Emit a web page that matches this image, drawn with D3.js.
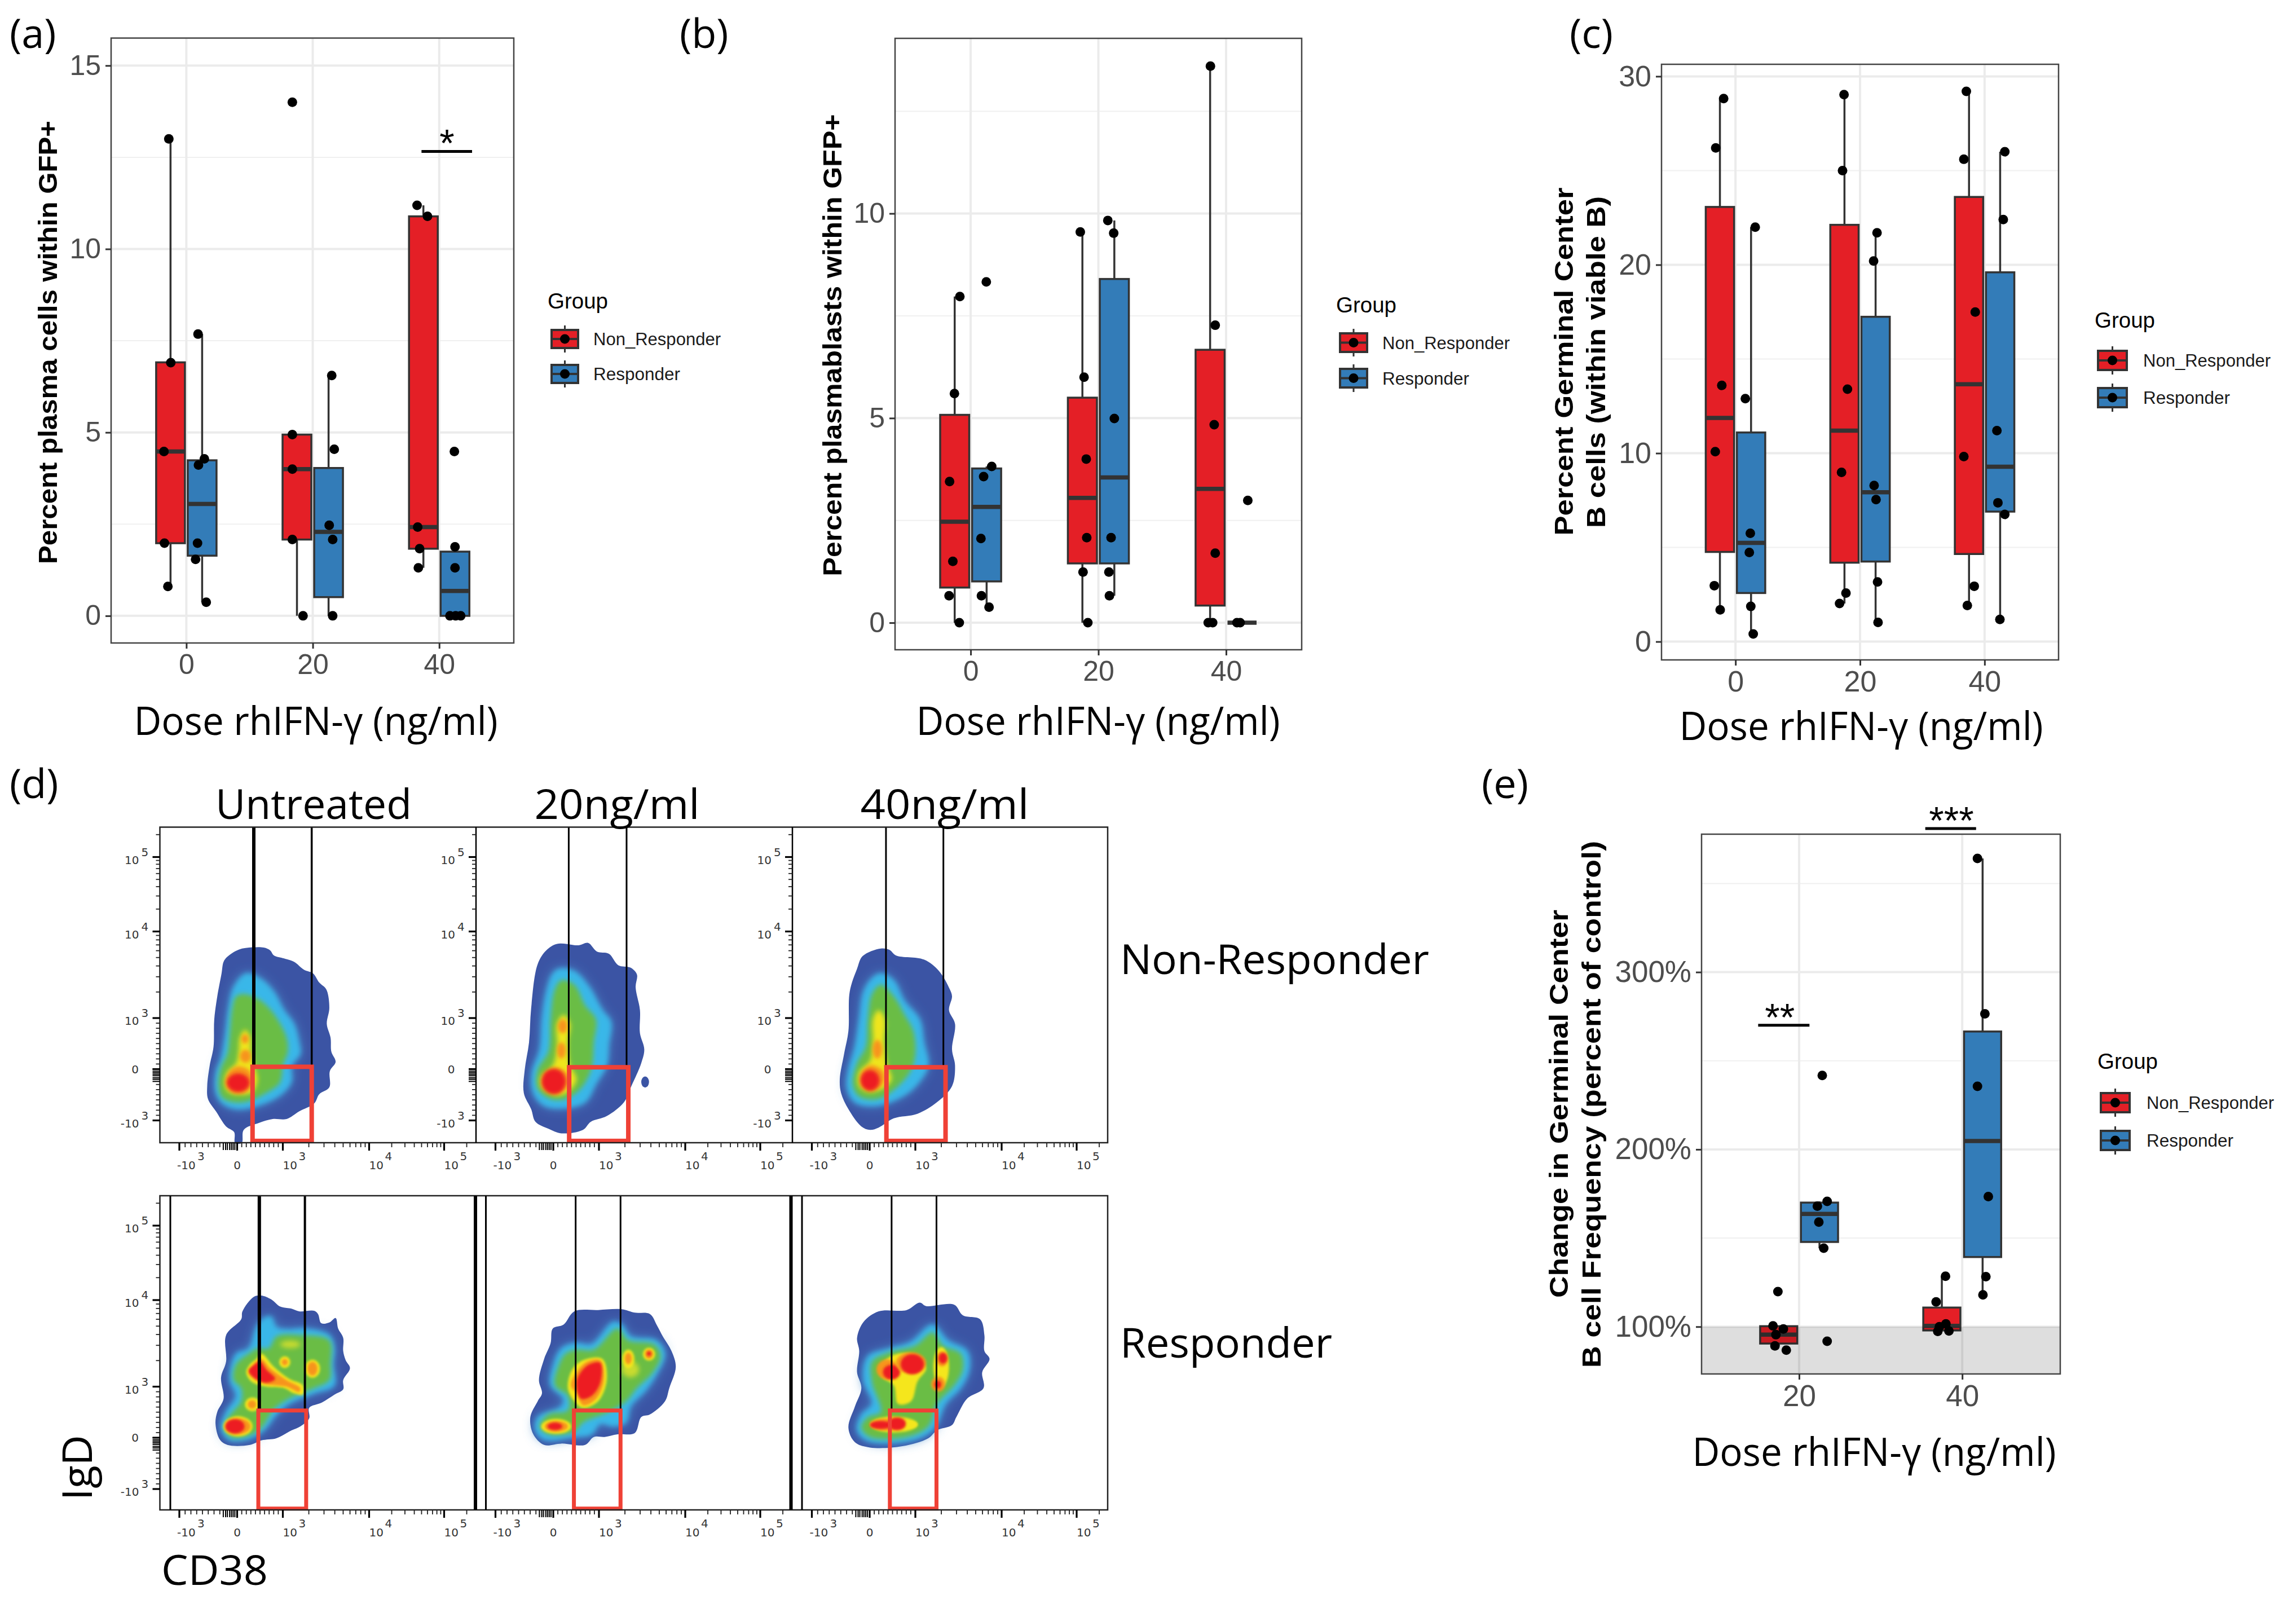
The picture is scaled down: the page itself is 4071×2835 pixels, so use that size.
<!DOCTYPE html>
<html><head><meta charset="utf-8">
<script src="https://cdnjs.cloudflare.com/ajax/libs/d3/7.8.5/d3.min.js"></script>
<style>html,body{margin:0;padding:0;background:#fff}svg{display:block}</style>
</head><body><svg id="c" width="4071" height="2835" viewBox="0 0 4071 2835"></svg>
<script>
// ---------- data: box plots ----------
const groups = ['Non_Responder', 'Responder'];
const groupFill = ['#E41F26', '#337CB8'];
const dosesABC = [0, 20, 40];
const dosesE = [20, 40];
// [dose, group, low, q1, median, q3, high]
const boxesA = [[0,0,0.8,1.98,4.48,6.91,13],[0,1,0.37,1.64,3.05,4.24,7.68],[20,0,0,2.08,4,4.94,4.94],[20,1,0,0.51,2.29,4.03,6.55],[40,0,1.31,1.83,2.42,10.89,11.19],[40,1,0,0,0.68,1.75,1.75]];
// [x, y]
const ptsA = [[-2.77,13],[-2.46,6.9],[-3.54,4.48],[-3.46,1.98],[-2.92,0.8],[1.85,7.68],[2.85,4.28],[1.92,4.11],[1.77,1.98],[1.46,1.54],[3.15,0.37],[16.77,14],[16.77,4.94],[16.77,4],[16.77,2.08],[18.46,0],[23,6.55],[23.4,4.54],[22.6,2.47],[23.15,2.08],[23.15,0],[36.5,11.19],[38.15,10.89],[36.6,2.42],[36.9,1.83],[36.7,1.31],[42.4,4.48],[42.5,1.88],[42.5,1.31],[41.7,0],[42.6,0],[43.4,0]];
const boxesB = [[0,0,0,0.86,2.47,5.08,7.97],[0,1,0.38,1.01,2.83,3.77,3.82],[20,0,0,1.45,3.05,5.5,9.55],[20,1,0.66,1.45,3.55,8.4,9.83],[40,0,0,0.42,3.27,6.67,13.6],[40,1,0,0,0,0,0]];
const ptsB = [[-1.69,7.97],[-2.54,5.6],[-3.3,3.45],[-2.79,1.5],[-3.38,0.66],[-1.78,0],[2.45,8.33],[3.3,3.82],[2.03,3.57],[1.61,2.06],[1.69,0.66],[2.88,0.38],[17.17,9.55],[17.76,6],[18.1,4],[18.18,2.08],[17.6,1.24],[18.35,0],[21.48,9.83],[22.4,9.52],[22.5,4.99],[21.99,2.08],[21.65,1.24],[21.73,0.66],[37.55,13.6],[38.3,7.27],[38.14,4.84],[38.3,1.7],[37.2,0],[37.9,0],[43.4,2.99],[41.7,0],[42.2,0]];
const boxesC = [[0,0,1.69,4.76,11.87,23.07,28.82],[0,1,0.41,2.58,5.24,11.1,22],[20,0,2.02,4.19,11.2,22.12,29.03],[20,1,1.02,4.25,7.93,17.24,21.7],[40,0,1.92,4.65,13.66,23.6,29.2],[40,1,1.18,6.9,9.28,19.6,26]];
const ptsC = [[-1.9,28.82],[-3.17,26.2],[-2.2,13.6],[-3.25,10.08],[-3.4,2.97],[-2.46,1.69],[3.17,22],[1.58,12.9],[2.38,5.75],[2.22,4.73],[2.46,1.87],[2.85,0.41],[17.43,29.03],[17.19,25],[17.98,13.4],[17.03,8.98],[17.74,2.58],[16.71,2.02],[22.73,21.7],[22.18,20.2],[22.26,8.29],[22.57,7.54],[22.81,3.17],[22.89,1.02],[37.07,29.2],[36.67,25.6],[38.5,17.49],[36.67,9.82],[38.34,2.94],[37.23,1.92],[43.25,26],[43,22.4],[41.98,11.2],[42.14,7.37],[43.25,6.75],[42.46,1.18]];
const boxesE = [[20,0,89.2,90.5,95.5,100.3,100.5],[20,1,144.3,147.8,163.6,170,170.7],[40,0,97.4,97.9,100.5,110.8,128.5],[40,1,118,139.3,204.7,266.5,364.1]];
const ptsE = [[17.4,119.8],[16.8,100.5],[18.07,98.7],[17.16,95.5],[17.04,89.2],[18.43,86.8],[22.84,241.7],[23.44,170.7],[22.24,168],[22.42,159],[23.02,144.3],[23.44,91.8],[37.95,128.5],[36.8,114],[38,101.6],[37.2,100],[37,97.4],[38.37,97.6],[41.87,364.1],[42.78,276.5],[41.87,235.6],[43.2,173.4],[42.9,128.2],[42.54,118]];
const yTicksA=[0,5,10,15], yMinorA=[2.5,7.5,12.5];
const yTicksB=[0,5,10], yMinorB=[2.5,7.5,12.5];
const yTicksC=[0,10,20,30], yMinorC=[5,15,25];
const yTicksE=[100,200,300], yMinorE=[150,250,350];
// significance: [x1, x2, y, starX, label]
const sigA=[[37.2,45.2,12.66,41.23,'*']];
const sigE=[[14.98,21.27,270,17.64,'**'],[35.47,41.7,381,38.67,'***']];

// ---------- data: flow density outlines in crop-read-out units ----------
const blueTL=[[555,587],[600,588],[625,600],[640,622],[680,635],[720,650],[760,685],[795,700],[820,740],[848,770],[860,850],[850,920],[865,980],[868,1040],[885,1085],[862,1125],[860,1195],[820,1225],[800,1265],[740,1300],[690,1333],[635,1333],[580,1350],[520,1380],[512,1437],[486,1437],[482,1390],[450,1365],[410,1300],[378,1245],[375,1190],[385,1100],[400,1020],[403,900],[415,800],[432,700],[440,650],[455,628],[500,597]];
const cyanTL=[[530,700],[590,725],[640,780],[680,860],[720,920],[740,1000],[745,1050],[710,1100],[710,1170],[670,1225],[590,1270],[500,1290],[440,1270],[410,1220],[410,1130],[430,1070],[445,980],[460,850],[480,760]];
const greenTL=[[520,790],[575,810],[620,850],[660,910],[690,980],[695,1040],[675,1100],[670,1150],[660,1180],[600,1225],[540,1255],[480,1260],[435,1240],[420,1190],[430,1110],[455,1050],[465,960],[475,850],[490,800]];
const yellowTL=[[525,945],[545,975],[550,1050],[560,1100],[575,1160],[555,1215],[510,1225],[460,1215],[445,1180],[455,1130],[490,1090],[500,1040],[505,980]];
const orangeTL=[[495,1105],[540,1120],[555,1170],[530,1215],[480,1220],[450,1185],[460,1130]];
const spotsTL=[[3,525,985,14,20],[3,527,1060,22,28],[4,498,1175,45,40]];

const blueTM=[[180,572],[230,578],[252,568],[272,605],[300,615],[322,665],[350,675],[365,705],[362,760],[372,860],[372,960],[382,1030],[375,1090],[352,1190],[335,1260],[295,1320],[258,1345],[240,1380],[190,1395],[160,1375],[130,1345],[120,1290],[103,1220],[105,1120],[115,1000],[120,850],[135,660],[155,600]];
const cyanTM=[[185,680],[220,690],[255,760],[285,860],[305,910],[300,1010],[295,1100],[270,1180],[245,1260],[200,1285],[150,1275],[125,1220],[122,1130],[140,1030],[145,900],[155,780],[170,700]];
const greenTM=[[190,730],[220,750],[245,840],[270,900],[265,1000],[260,1110],[235,1200],[200,1245],[165,1245],[135,1200],[135,1120],[160,1040],[165,900],[175,770]];
const yellowTM=[[195,880],[210,920],[205,1000],[210,1100],[225,1160],[205,1215],[175,1230],[145,1200],[142,1150],[170,1100],[180,1020],[180,920]];
const orangeTM=[[175,1110],[200,1130],[205,1180],[180,1225],[150,1190],[150,1140]];
const spotsTM=[[3,193,930,11,30],[3,190,1035,10,35],[4,172,1170,28,55],[0,384,1172,9,24]];

const blueTR=[[930,592],[950,598],[965,622],[1030,640],[1065,690],[1090,770],[1095,800],[1088,860],[1102,920],[1095,1030],[1102,1100],[1095,1190],[1060,1260],[1015,1310],[960,1330],[925,1370],[905,1380],[885,1365],[855,1290],[838,1220],[835,1160],[845,1050],[855,950],[858,780],[875,680],[888,625]];
const cyanTR=[[930,700],[960,730],[985,820],[1020,900],[1030,1000],[1040,1100],[1020,1170],[985,1230],[920,1275],[870,1260],[852,1200],[855,1120],[870,1020],[880,900],[890,780],[910,720]];
const greenTR=[[930,750],[960,800],[985,880],[1005,950],[1010,1050],[1000,1120],[970,1190],[925,1245],[880,1235],[865,1180],[875,1090],[895,1020],[900,900],[910,790]];
const yellowTR=[[925,860],[940,900],[938,1000],[945,1100],[955,1160],[935,1200],[900,1215],[880,1190],[880,1130],[905,1080],[912,1000],[912,900]];
const orangeTR=[[905,1100],[935,1125],[935,1180],[905,1210],[885,1180],[885,1135]];
const spotsTR=[[3,922,1030,11,40],[4,905,1165,22,45]];

const blueBL=[[560,425],[590,420],[630,435],[665,462],[710,470],[740,480],[800,478],[815,490],[828,525],[860,522],[885,505],[895,545],[915,580],[915,630],[925,665],[942,695],[915,740],[915,775],[880,795],[830,825],[780,845],[780,885],[745,915],[710,930],[650,960],[590,968],[545,985],[455,985],[425,965],[408,905],[415,860],[440,810],[430,730],[450,670],[450,570],[510,510],[515,480]];
const cyanBL=[[630,500],[650,540],[700,548],[760,545],[860,570],[880,620],[875,680],[880,760],[800,790],[700,830],[650,870],[600,930],[530,965],[460,965],[430,920],[450,860],[490,800],[465,740],[490,640],[540,620],[570,540],[600,505]];
const greenBL=[[575,620],[620,620],[650,575],[750,570],[860,590],[865,680],[860,740],[800,770],[700,810],[640,850],[590,920],[540,950],[470,955],[445,925],[460,880],[510,820],[510,770],[480,740],[490,680],[540,640]];
const yellowBL=[[590,640],[640,690],[700,735],[755,760],[755,795],[720,790],[680,770],[610,765],[550,745],[530,710],[545,680],[570,660]];
const orangeBL=[[590,660],[625,695],[690,740],[745,770],[740,785],[690,765],[610,755],[560,735],[540,710],[560,680]];
const redBL=[[585,670],[610,700],[645,735],[610,750],[560,730],[540,705],[565,680]];
const spotsBL=[[5,705,605,40,14],[2,683,672,22,22],[3,683,672,12,12],[2,793,697,30,34],[3,793,697,20,26],[2,555,832,30,26],[3,553,832,17,16],[2,497,915,58,38],[3,497,915,50,30],[4,485,915,38,27]];

const blueBM=[[220,480],[275,475],[330,472],[360,485],[395,490],[412,535],[425,575],[445,630],[455,690],[440,770],[430,820],[395,870],[375,880],[360,940],[320,945],[290,955],[265,955],[245,985],[190,980],[150,985],[125,945],[118,880],[135,820],[145,790],[138,740],[150,660],[165,600],[170,545],[195,530]];
const cyanBM=[[225,600],[260,605],[310,520],[330,530],[350,575],[410,590],[430,640],[410,720],[385,780],[350,840],[340,900],[310,915],[280,905],[260,945],[220,955],[150,965],[130,930],[135,880],[190,840],[195,810],[165,760],[170,690],[190,620]];
const greenBM=[[225,625],[265,625],[320,545],[345,590],[405,605],[420,650],[400,715],[365,770],[340,820],[300,860],[240,900],[220,935],[160,945],[140,915],[160,870],[205,855],[205,800],[175,760],[185,680],[200,640]];
const yellowBM=[[240,665],[285,660],[295,740],[275,820],[240,845],[220,820],[205,770],[215,700]];
const orangeBM=[[250,670],[280,665],[288,745],[268,815],[240,835],[225,790],[212,760],[225,710]];
const redBM=[[255,680],[280,675],[280,750],[260,800],[235,810],[225,750],[235,710]];
const spotsBM=[[5,350,700,20,30],[2,345,660,14,35],[3,345,658,8,22],[2,393,642,14,24],[3,393,642,9,17],[4,393,640,5,8],[2,178,915,35,28],[3,178,915,27,20],[4,175,915,17,14]];

const blueBR=[[1020,447],[1035,460],[1100,455],[1120,495],[1160,510],[1170,570],[1170,630],[1182,660],[1165,710],[1168,770],[1130,810],[1105,880],[1095,910],[1060,930],[1040,960],[980,990],[905,995],[870,975],[855,920],[870,840],[885,770],[875,710],[880,630],[875,580],[890,520],[925,480],[990,475]];
const cyanBR=[[1050,530],[1085,590],[1130,630],[1135,700],[1115,770],[1080,830],[1055,920],[1010,965],[900,970],[875,930],[885,870],[910,830],[890,740],[900,650],[950,620],[1000,595]];
const greenBR=[[1050,560],[1075,610],[1115,640],[1120,700],[1100,760],[1060,830],[1040,915],[990,955],[905,955],[885,920],[900,880],[930,860],[910,750],[910,670],[950,635],[1010,610]];
const yellowBR=[[960,645],[1010,645],[1035,695],[1015,745],[1000,820],[970,830],[960,760],[935,730],[930,690]];
const spotsBR=[[3,945,700,25,38],[4,955,710,20,28],[3,1000,675,35,40],[4,1003,680,27,38],[2,1070,690,18,75],[3,1072,660,13,28],[4,1074,657,10,20],[3,1063,755,16,28],[4,1062,757,8,15],[2,960,908,55,30],[2,1000,908,15,12],[3,945,908,40,22],[4,930,910,25,15],[4,968,905,20,24]];

// gate: [leftLine, leftWidth, rightLine, rightWidth, redLeft, redRight, redTop, redBottom, top]
const gateTL=[560,6,790,3.5,555,790,1106,1428,65];
const gateTM=[207,3,341,3,208,345,1108,1428,65];
const gateTR=[942,3,1075,3,943,1080,1108,1428,65];
const gateBL=[582,6,763,4,578,768,855,1226,42];
const gateBM=[223,3,327,3,219,327,855,1226,42];
const gateBR=[955,3,1059,3,951,1059,855,1226,42];

const flowMajor=[[-1000,'-10','3'],[0,'0',''],[1000,'10','3'],[10000,'10','4'],[100000,'10','5']];
const flowCluster=[-240,-200,-170,-130,-100,-70,-40,0];
const flowMinor=[-900,-800,-700,-600,-500,-400,-300,100,200,300,400,500,600,700,800,900,2000,3000,4000,5000,6000,7000,8000,9000,20000,30000,40000,50000,60000,70000,80000,90000,200000];
const flowColNames=['Untreated','20ng/ml','40ng/ml'];

// ---------- drawing ----------
const svg=d3.select('#c');
const defs=svg.append('defs');
[['b10',10],['b7',7],['b4',4.5],['b3',3.2],['b2',2]].forEach(([id,s])=>{
  const f=defs.append('filter').attr('id',id).attr('x','-60%').attr('y','-60%').attr('width','220%').attr('height','220%');
  f.append('feGaussianBlur').attr('stdDeviation',s);
});
const SANS="'Liberation Sans',Arial,sans-serif", HUM="'Open Sans',sans-serif";
function label(t,x,y,size,len,opt={}){
  const e=svg.append('text').attr('x',x).attr('y',y).attr('font-family',opt.family||HUM).attr('font-size',size)
    .attr('font-weight',opt.weight||400).attr('fill',opt.fill||'#000').attr('text-anchor',opt.anchor||'start').text(t);
  if(len) e.attr('textLength',len).attr('lengthAdjust','spacingAndGlyphs');
  if(opt.rot) e.attr('transform',`rotate(-90 ${x} ${y})`);
  return e;
}
function legend(L){
  label('Group',L.gx,L.gy,38,107,{family:SANS});
  groups.forEach((g,i)=>{
    const top=L.ky[i], h=L.kh, cx=L.kx+L.kw/2, cy=top+h/2;
    svg.append('line').attr('x1',cx).attr('x2',cx).attr('y1',top-8).attr('y2',top+h+8).attr('stroke','#333').attr('stroke-width',3);
    svg.append('rect').attr('x',L.kx).attr('y',top).attr('width',L.kw).attr('height',h).attr('fill',groupFill[i]).attr('stroke','#333').attr('stroke-width',4);
    svg.append('line').attr('x1',L.kx).attr('x2',L.kx+L.kw).attr('y1',cy).attr('y2',cy).attr('stroke','#333').attr('stroke-width',4);
    svg.append('circle').attr('cx',cx).attr('cy',cy).attr('r',8.5).attr('fill','#000');
    label(g,L.tx,cy+11,31,i==0?226:154,{family:SANS,fill:'#1a1a1a'});
  });
}
function boxPanel(P){
  const x=d3.scaleLinear().domain(P.xd).range([P.l,P.r]);
  const y=d3.scaleLinear().domain(P.yd).range([P.b,P.t]);
  const g=svg.append('g');
  g.append('rect').attr('x',P.l).attr('y',P.t).attr('width',P.r-P.l).attr('height',P.b-P.t).attr('fill','#fff');
  g.selectAll('.mn').data(P.minor).join('line').attr('x1',P.l).attr('x2',P.r).attr('y1',d=>y(d)).attr('y2',d=>y(d)).attr('stroke','#F0F0F0').attr('stroke-width',2);
  g.selectAll('.mj').data(P.ticks).join('line').attr('x1',P.l).attr('x2',P.r).attr('y1',d=>y(d)).attr('y2',d=>y(d)).attr('stroke','#EBEBEB').attr('stroke-width',4);
  g.selectAll('.mv').data(P.doses).join('line').attr('y1',P.t).attr('y2',P.b).attr('x1',d=>x(d)).attr('x2',d=>x(d)).attr('stroke','#EBEBEB').attr('stroke-width',4);
  const w=4.55, off=i=>i==0?-2.5:2.5;
  P.boxes.forEach(([d,gi,lo,q1,m,q3,hi])=>{
    const c=d+off(gi);
    g.append('line').attr('x1',x(c)).attr('x2',x(c)).attr('y1',y(hi)).attr('y2',y(q3)).attr('stroke','#333').attr('stroke-width',3.5);
    g.append('line').attr('x1',x(c)).attr('x2',x(c)).attr('y1',y(q1)).attr('y2',y(lo)).attr('stroke','#333').attr('stroke-width',3.5);
    g.append('rect').attr('x',x(c-w/2)).attr('width',x(c+w/2)-x(c-w/2)).attr('y',y(q3)).attr('height',y(q1)-y(q3)).attr('fill',groupFill[gi]).attr('stroke','#333').attr('stroke-width',3.5);
    g.append('line').attr('x1',x(c-w/2)).attr('x2',x(c+w/2)).attr('y1',y(m)).attr('y2',y(m)).attr('stroke','#333').attr('stroke-width',7.5);
  });
  if(P.band!==undefined){
    g.append('rect').attr('x',P.l).attr('width',P.r-P.l).attr('y',y(P.band)).attr('height',P.b-y(P.band)).attr('fill','#000').attr('fill-opacity',0.13);
  }
  g.selectAll('.pt').data(P.pts).join('circle').attr('cx',d=>x(d[0])).attr('cy',d=>y(d[1])).attr('r',8.5).attr('fill','#000');
  g.append('rect').attr('x',P.l).attr('y',P.t).attr('width',P.r-P.l).attr('height',P.b-P.t).attr('fill','none').attr('stroke','#444').attr('stroke-width',2.5);
  const ax=g.append('g').attr('transform',`translate(0,${P.b})`).call(d3.axisBottom(x).tickValues(P.doses).tickSize(10).tickPadding(9).tickFormat(d3.format('d')));
  const ay=g.append('g').attr('transform',`translate(${P.l},0)`).call(d3.axisLeft(y).tickValues(P.ticks).tickSize(10).tickPadding(8).tickFormat(P.fmt||d3.format('d')));
  [ax,ay].forEach(a=>{a.select('.domain').remove();a.selectAll('line').attr('stroke','#333').attr('stroke-width',3);
    a.selectAll('text').attr('font-family',SANS).attr('font-size',P.tf).attr('fill','#4D4D4D');});
  (P.sig||[]).forEach(([a,b,v,sx,s])=>{
    g.append('line').attr('x1',x(a)).attr('x2',x(b)).attr('y1',y(v)).attr('y2',y(v)).attr('stroke','#000').attr('stroke-width',5);
    g.append('text').attr('x',x(sx)).attr('y',y(v)+9).attr('text-anchor','middle').attr('font-family',SANS).attr('font-size',68).attr('fill','#000').text(s);
  });
  P.ytitle.forEach(([t,bx,cy,len])=>label(t,bx,cy,47,len,{family:SANS,weight:700,anchor:'middle',rot:true}));
  label(P.xt[0],P.xt[1],P.xt[2],70,645,{anchor:'middle'});
  legend(P.legend);
}
boxPanel({l:197,r:911,t:67.5,b:1140,xd:[-11.9,51.8],yd:[-0.74,15.75],doses:dosesABC,ticks:yTicksA,minor:yMinorA,boxes:boxesA,pts:ptsA,tf:50,sig:sigA,
  ytitle:[['Percent plasma cells within GFP+',101,607,786]],xt:['Dose rhIFN-γ (ng/ml)',560,1303],
  legend:{gx:971,gy:547,kx:978,kw:47,ky:[585,647],kh:32,tx:1052}});
boxPanel({l:1587,r:2308,t:68,b:1152,xd:[-11.84,51.84],yd:[-0.66,14.28],doses:dosesABC,ticks:yTicksB,minor:yMinorB,boxes:boxesB,pts:ptsB,tf:50,
  ytitle:[['Percent plasmablasts within GFP+',1492,612,819]],xt:['Dose rhIFN-γ (ng/ml)',1947,1303],
  legend:{gx:2369,gy:554,kx:2376,kw:48,ky:[591,654],kh:33,tx:2451}});
boxPanel({l:2946,r:3650,t:114,b:1170,xd:[-11.88,51.88],yd:[-0.97,30.64],doses:dosesABC,ticks:yTicksC,minor:yMinorC,boxes:boxesC,pts:ptsC,tf:52,
  ytitle:[['Percent Germinal Center',2789,641,617],['B cells (within viable B)',2846,642,588]],xt:['Dose rhIFN-γ (ng/ml)',3300,1312],
  legend:{gx:3714,gy:581,kx:3720,kw:51,ky:[622,688],kh:34,tx:3800}});
boxPanel({l:3017,r:3653,t:1479,b:2436,xd:[8.04,52.02],yd:[73.35,377.8],doses:dosesE,ticks:yTicksE,minor:yMinorE,boxes:boxesE,pts:ptsE,tf:53,band:100,sig:sigE,fmt:d=>d+'%',
  ytitle:[['Change in Germinal Center',2780,1957,688],['B cell Frequency (percent of control)',2838,1958,934]],xt:['Dose rhIFN-γ (ng/ml)',3323,2599],
  legend:{gx:3719,gy:1895,kx:3725,kw:51,ky:[1938,2005],kh:34,tx:3806}});

// panel letters
[['(a)',17,85],['(b)',1205,85],['(c)',2783,85],['(d)',17,1415],['(e)',2627,1415]].forEach(([t,x,y])=>label(t,x,y,72));

// ---------- flow plots ----------
const cropX={A:[200,900],B:[200,900],C:[850,2050],D:[850,2050]};
const cropY={A:[1440,2080],B:[2100,2835],C:[1440,2080],D:[2100,2835]};
const colors=['#3B54A4','#38BDEC','#6BBD45','#F5E61A','#F7941D','#ED1C24','#C9DB2E'];
const flowLine=d3.line().curve(d3.curveCatmullRomClosed.alpha(0.5));
function flow(F){
  const sx=d3.scaleLinear().domain([0,1568]).range(cropX[F.crop]);
  const sy=d3.scaleLinear().domain([0,1568]).range(cropY[F.crop]);
  const g=svg.append('g');
  const poly=(pts,col,flt,op)=>{const p=g.append('path').attr('d',flowLine(pts.map(d=>[sx(d[0]),sy(d[1])]))).attr('fill',col);if(flt)p.attr('filter',`url(#${flt})`);if(op)p.attr('fill-opacity',op);};
  const hot=F.soft?'b4':'b2';
  const flts=[null,'b7','b4',hot,F.soft?'b3':'b2',F.soft?'b3':'b2','b4'];
  poly(F.blue,colors[0]);
  F.spots.filter(s=>s[0]==0).forEach(s=>g.append('ellipse').attr('cx',sx(s[1])).attr('cy',sy(s[2])).attr('rx',sx(s[3])-sx(0)).attr('ry',sy(s[4])-sy(0)).attr('fill',colors[0]));
  poly(F.cyan,'#4A8CCB','b10');
  poly(F.cyan,colors[1],'b4',0.9);
  poly(F.green,colors[2],'b4');
  poly(F.yellow,F.soft?'#EFE51F':colors[3],hot);
  if(F.orange) poly(F.orange,colors[4],F.soft?'b3':'b2');
  if(F.red) poly(F.red,colors[5],'b2');
  F.spots.filter(s=>s[0]>0).forEach(s=>{
    const lvl=s[0]==5?6:s[0]+1;
    g.append('ellipse').attr('cx',sx(s[1])).attr('cy',sy(s[2])).attr('rx',sx(s[3])-sx(0)).attr('ry',sy(s[4])-sy(0))
      .attr('fill',colors[lvl]).attr('filter',`url(#${flts[lvl]})`);
  });
  const [a,aw,b,bw,rl,rr,rt,rb,top]=F.gate;
  [[a,aw],[b,bw]].forEach(([v,w])=>g.append('line').attr('x1',sx(v)).attr('x2',sx(v)).attr('y1',sy(top)).attr('y2',sy(rt)).attr('stroke','#000').attr('stroke-width',w));
  g.append('rect').attr('x',sx(rl)).attr('y',sy(rt)).attr('width',sx(rr)-sx(rl)).attr('height',sy(rb)-sy(rt)).attr('fill','none').attr('stroke','#EF4136').attr('stroke-width',F.rs);
}
flow({crop:'A',soft:true,blue:blueTL,cyan:cyanTL,green:greenTL,yellow:yellowTL,orange:orangeTL,spots:spotsTL,gate:gateTL,rs:8});
flow({crop:'C',soft:true,blue:blueTM,cyan:cyanTM,green:greenTM,yellow:yellowTM,orange:orangeTM,spots:spotsTM,gate:gateTM,rs:8});
flow({crop:'C',soft:true,blue:blueTR,cyan:cyanTR,green:greenTR,yellow:yellowTR,orange:orangeTR,spots:spotsTR,gate:gateTR,rs:8});
flow({crop:'B',blue:blueBL,cyan:cyanBL,green:greenBL,yellow:yellowBL,orange:orangeBL,red:redBL,spots:spotsBL,gate:gateBL,rs:7});
flow({crop:'D',blue:blueBM,cyan:cyanBM,green:greenBM,yellow:yellowBM,orange:orangeBM,red:redBM,spots:spotsBM,gate:gateBM,rs:7});
flow({crop:'D',blue:blueBR,cyan:cyanBR,green:greenBR,yellow:yellowBR,spots:spotsBR,gate:gateBR,rs:7});

// flow axes: linear around zero, logarithmic above 10^3
function biex(range){
  const lin=d3.scaleLinear().domain([-1000,0,1000]).range(range.slice(0,3));
  const lg=d3.scaleLog().domain([1000,10000,100000]).range(range.slice(2));
  return v=>v<=1000?lin(v):lg(v);
}
const bx=biex([34.5,137,218,371,504]);
const by=biex([520,429,338.5,185,53]);
function xAxis(x0,y0){
  const g=svg.append('g');
  flowMinor.forEach(v=>g.append('line').attr('x1',x0+bx(v)).attr('x2',x0+bx(v)).attr('y1',y0).attr('y2',y0+8).attr('stroke','#222').attr('stroke-width',1.8));
  flowCluster.forEach(v=>g.append('line').attr('x1',x0+bx(v)).attr('x2',x0+bx(v)).attr('y1',y0).attr('y2',y0+13).attr('stroke','#000').attr('stroke-width',2));
  flowMajor.forEach(([v,b,e])=>{
    g.append('line').attr('x1',x0+bx(v)).attr('x2',x0+bx(v)).attr('y1',y0).attr('y2',y0+14).attr('stroke','#000').attr('stroke-width',3.2);
    const off=v<0?-4:0;
    g.append('text').attr('x',x0+bx(v)+off).attr('y',y0+47).attr('font-family',"'DejaVu Sans'").attr('font-size',20).attr('fill','#333').attr('text-anchor',v==0?'middle':'start').text(b);
    if(e) g.append('text').attr('x',x0+bx(v)+off+(v<0?36:28)).attr('y',y0+31).attr('font-family',"'DejaVu Sans'").attr('font-size',20).attr('fill','#333').text(e);
  });
}
function yAxis(x0,y0){
  const g=svg.append('g');
  flowMinor.forEach(v=>g.append('line').attr('x1',x0-7).attr('x2',x0).attr('y1',y0+by(v)).attr('y2',y0+by(v)).attr('stroke','#222').attr('stroke-width',1.8));
  flowCluster.forEach(v=>g.append('line').attr('x1',x0-13).attr('x2',x0).attr('y1',y0+by(v)).attr('y2',y0+by(v)).attr('stroke','#000').attr('stroke-width',2));
  flowMajor.forEach(([v,b,e])=>{
    g.append('line').attr('x1',x0-13).attr('x2',x0).attr('y1',y0+by(v)).attr('y2',y0+by(v)).attr('stroke','#000').attr('stroke-width',3.2);
    if(e){
      g.append('text').attr('x',x0-37).attr('y',y0+by(v)+12).attr('text-anchor','end').attr('font-family',"'DejaVu Sans'").attr('font-size',20).attr('fill','#333').text(b);
      g.append('text').attr('x',x0-33).attr('y',y0+by(v)-2).attr('font-family',"'DejaVu Sans'").attr('font-size',20).attr('fill','#333').text(e);
    } else {
      g.append('text').attr('x',x0-44).attr('y',y0+by(v)+7).attr('text-anchor','middle').attr('font-family',"'DejaVu Sans'").attr('font-size',20).attr('fill','#333').text(b);
    }
  });
}
const flowCols=[283.5,844,1405], flowRight=1964;
const rowTop=[1466.5,2120], rowBottom=[2026,2677];
rowTop.forEach((t,i)=>{
  svg.append('rect').attr('x',flowCols[0]).attr('y',t).attr('width',flowRight-flowCols[0]).attr('height',rowBottom[i]-t).attr('fill','none').attr('stroke','#222').attr('stroke-width',2.5);
  flowCols.forEach(c=>xAxis(c,rowBottom[i]));
});
flowCols.slice(1).forEach(c=>svg.append('line').attr('x1',c).attr('x2',c).attr('y1',rowTop[0]).attr('y2',rowBottom[0]).attr('stroke','#000').attr('stroke-width',2.5));
flowCols.forEach(c=>yAxis(c,rowTop[0]));
yAxis(flowCols[0],rowTop[1]);
[[302,3],[843,6],[861.5,3],[1402.5,6],[1422,3]].forEach(([x,w])=>svg.append('line').attr('x1',x).attr('x2',x).attr('y1',rowTop[1]).attr('y2',rowBottom[1]).attr('stroke','#000').attr('stroke-width',w));

label(flowColNames[0],556,1452,74,348,{anchor:'middle'});
label(flowColNames[1],1094,1452,74,293,{anchor:'middle'});
label(flowColNames[2],1675,1452,74,299,{anchor:'middle'});
label('Non-Responder',1986,1727,74,548);
label('Responder',1986,2407,74,376);
label('IgD',163,2660,74,116,{rot:true});
label('CD38',286,2810,74,189);
</script></body></html>
